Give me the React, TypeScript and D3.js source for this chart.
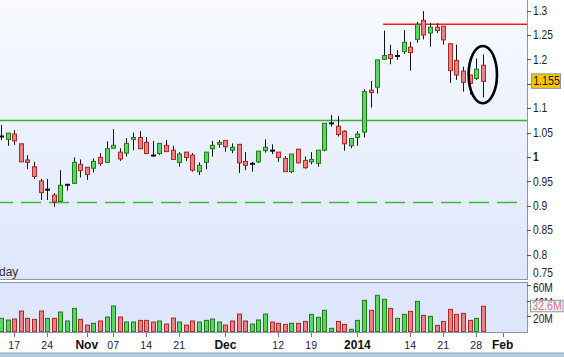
import React from "react";
import * as d3 from "d3";

// ---- data (trading-day index 0 = 15 Oct 2013, last = 29 Jan 2014) ----
const opens = [1.042,1.036,1.047,1.027,0.994,0.980,0.951,0.933,0.922,0.909,0.943,0.946,0.985,0.979,0.977,0.999,0.989,1.018,1.010,1.008,1.036,1.040,1.030,1.003,1.007,1.024,1.014,0.989,1.010,1.004,0.970,0.989,1.017,1.026,1.034,1.014,1.026,0.991,0.986,0.990,1.013,1.013,1.010,0.997,0.970,1.016,0.993,0.990,0.987,1.014,1.069,1.063,1.053,1.023,1.040,1.051,1.137,1.143,1.200,1.210,1.207,1.216,1.225,1.241,1.280,1.254,1.266,1.268,1.232,1.198,1.176,1.168,1.161,1.188];
const highs = [1.066,1.049,1.055,1.027,1.004,0.990,0.955,0.955,0.926,0.973,0.945,0.999,0.995,0.979,0.997,1.008,1.032,1.057,1.018,1.039,1.050,1.053,1.041,1.033,1.028,1.035,1.023,1.010,1.010,1.008,0.989,1.010,1.033,1.035,1.034,1.028,1.026,1.010,0.990,1.012,1.036,1.026,1.010,1.002,1.006,1.016,1.001,1.010,1.014,1.069,1.086,1.084,1.055,1.038,1.053,1.139,1.156,1.199,1.259,1.230,1.219,1.260,1.236,1.277,1.299,1.275,1.274,1.268,1.232,1.230,1.185,1.168,1.202,1.210];
const lows = [1.035,1.023,1.025,0.990,0.975,0.955,0.912,0.912,0.898,0.909,0.931,0.946,0.958,0.953,0.968,0.982,0.989,1.018,0.992,1.001,1.014,1.017,1.007,1.001,1.004,1.011,0.995,0.980,0.992,0.970,0.963,0.975,1.001,1.019,1.011,1.008,0.967,0.973,0.970,0.988,1.009,1.006,0.990,0.970,0.967,0.987,0.976,0.985,0.980,1.012,1.062,1.042,1.013,1.018,1.023,1.040,1.101,1.130,1.200,1.190,1.199,1.211,1.177,1.234,1.241,1.226,1.254,1.230,1.152,1.158,1.134,1.128,1.158,1.122];
const closes = [1.042,1.049,1.033,0.990,0.989,0.960,0.927,0.933,0.908,0.942,0.943,0.989,0.972,0.964,0.991,0.987,1.017,1.024,0.996,1.028,1.040,1.017,1.007,1.003,1.028,1.011,0.995,1.006,0.999,0.973,0.983,1.010,1.024,1.030,1.021,1.020,0.988,0.983,0.986,1.012,1.020,1.013,0.999,0.970,1.006,0.988,0.978,0.995,1.014,1.069,1.069,1.046,1.027,1.038,1.047,1.134,1.132,1.199,1.208,1.202,1.207,1.235,1.214,1.272,1.250,1.266,1.259,1.240,1.177,1.168,1.153,1.151,1.180,1.155];
const volumes = [17.1,15.0,16.2,26.5,17.1,15.8,26.5,17.1,17.1,25.2,13.7,29.9,15.8,8.5,10.7,13.7,18.8,32.9,18.8,12.4,12.4,14.5,14.5,12.4,13.7,9.8,17.5,12.4,8.5,13.7,12.4,14.5,16.2,12.4,8.5,13.7,22.6,13.7,9.8,15.0,22.6,12.4,10.7,9.4,10.7,10.7,13.2,22.2,18.4,27.4,4.3,13.2,9.4,3.0,14.5,40.2,27.4,46.6,41.5,29.9,17.1,22.2,26.1,38.9,20.9,19.7,8.1,13.2,28.6,22.2,23.5,14.5,17.1,32.6];

const xTickIdx = [2,7,13,17,22,27,34,42,47,54,62,67,72,76];
const xTickLabels = ["17","24","Nov","07","14","21","Dec","12","19","2014","14","21","28","Feb"];
const boldLabels = ["Nov","Dec","2014","Feb"];
const priceTicks = [0.75,0.8,0.85,0.9,0.95,1,1.05,1.1,1.15,1.2,1.25,1.3];
const hiddenPriceLabels = [1.15];
const volTicks = [20,40,60];

const resistanceLevel = 1.075;
const supportLevel = 0.907;
const topLevel = 1.272;
const topLineStartIdx = 57.9;
const lastPrice = 1.155;
const lastVolume = 32.6;
const titleText = "day";

const W = 564, H = 357;
const PANE_R = 527;
const P_TOP = 0, P_BOT = 279;
const V_TOP = 283, V_BOT = 332;

const GREEN_F = "#5cd65c", GREEN_S = "#1f7a1f";
const RED_F = "#f27f7f", RED_S = "#a52a2a";
const FONT = "'Liberation Sans', Arial, sans-serif";
const SX = 0.85; // axis-label horizontal squeeze

function AxisText(props: { x: number; y: number; text: string; bold?: boolean; fill?: string; anchor?: string; size?: number }) {
  const { x, y, text, bold, fill = "#222", anchor = "start", size = 12 } = props;
  return (
    <g transform={`translate(${x},${y}) scale(${SX},1)`}>
      <text x={0} y={0} dy="0.35em" fontSize={size} fill={fill} textAnchor={anchor} fontWeight={bold ? "bold" : "normal"}>{text}</text>
    </g>
  );
}

export default function App() {
  const x = d3.scaleLinear().domain([0, 76]).range([1, 502.6]);
  const y = d3.scaleLinear().domain([0.75, 1.3]).range([P_BOT, 10.6]);
  const yv = d3.scaleLinear().domain([0, 60]).range([331.7, 284.9]);
  const step = x(1) - x(0);
  const fmt = (v: number) => String(+v.toFixed(3));

  const candles = opens.map((o, i) => ({ i, o, h: highs[i], l: lows[i], c: closes[i], v: volumes[i] }));

  return (
    <svg width={W} height={H} style={{ position: "absolute", left: 0, top: 0, fontFamily: FONT }}>
      <defs>
        <linearGradient id="pbg" x1="0" y1="0" x2="0" y2="1">
          <stop offset="0" stopColor="#f8faff" />
          <stop offset="1" stopColor="#dfe7fb" />
        </linearGradient>
        <clipPath id="pclip"><rect x={0} y={P_TOP} width={PANE_R} height={P_BOT - P_TOP} /></clipPath>
      </defs>
      <rect x={0} y={0} width={W} height={H} fill="#ffffff" />
      <rect x={0} y={P_TOP} width={PANE_R} height={P_BOT - P_TOP} fill="url(#pbg)" />
      <rect x={0} y={V_TOP} width={PANE_R} height={V_BOT - V_TOP} fill="#dde6fb" />

      <g clipPath="url(#pclip)">
        <line x1={0} x2={PANE_R} y1={y(resistanceLevel)} y2={y(resistanceLevel)} stroke="#2fb52f" strokeWidth={1.5} />
        <line x1={0} x2={PANE_R - 10} y1={y(supportLevel)} y2={y(supportLevel)} stroke="#3cba3c" strokeWidth={1.5} strokeDasharray="20 8" strokeDashoffset={7} />
        <line x1={x(topLineStartIdx)} x2={PANE_R} y1={y(topLevel)} y2={y(topLevel)} stroke="#ff1a1a" strokeWidth={1.5} />
        {candles.map((d) => {
          const cx = Math.round(x(d.i)) + 0.5;
          const up = d.c > d.o;
          const flat = d.c === d.o;
          const top = y(Math.max(d.o, d.c));
          const bot = y(Math.min(d.o, d.c));
          return (
            <g key={d.i}>
              <line x1={cx} x2={cx} y1={y(d.h)} y2={y(d.l)} stroke="#111" strokeWidth={1} />
              {flat ? (
                <line x1={cx - 2.5} x2={cx + 2.5} y1={top} y2={top} stroke="#111" strokeWidth={2} />
              ) : (
                <rect x={cx - 2} y={top} width={4} height={Math.max(1, bot - top)}
                  fill={up ? GREEN_F : RED_F} stroke={up ? GREEN_S : RED_S} strokeWidth={1} />
              )}
            </g>
          );
        })}
        <ellipse cx={x(73)} cy={y(1.1687)} rx={step * 2.15} ry={y(1.11) - y(1.1687)} fill="none" stroke="#000" strokeWidth={2.6} />
      </g>

      {candles.map((d) => {
        const cx = Math.round(x(d.i)) + 0.5;
        const up = d.i === 0 ? true : d.c >= closes[d.i - 1];
        return (
          <rect key={"v" + d.i} x={cx - 2} y={yv(d.v)} width={4} height={yv(0) - yv(d.v)}
            fill={up ? GREEN_F : RED_F} stroke={up ? GREEN_S : RED_S} strokeWidth={1} />
        );
      })}

      <line x1={0} x2={PANE_R} y1={P_BOT + 0.5} y2={P_BOT + 0.5} stroke="#8a97a6" />
      <line x1={PANE_R + 0.5} x2={PANE_R + 0.5} y1={P_TOP} y2={P_BOT + 1} stroke="#8a97a6" />
      <line x1={0} x2={PANE_R} y1={V_TOP - 0.5} y2={V_TOP - 0.5} stroke="#8a97a6" />
      <line x1={PANE_R + 0.5} x2={PANE_R + 0.5} y1={V_TOP - 1} y2={V_BOT + 0.5} stroke="#8a97a6" />
      <line x1={0} x2={PANE_R + 1} y1={V_BOT + 0.5} y2={V_BOT + 0.5} stroke="#8a97a6" />

      <text x={-1} y={276} fontSize={12} fill="#333">{titleText}</text>

      {priceTicks.map((t) => (
        <g key={"p" + t}>
          {t > 0.75 && <line x1={PANE_R} x2={PANE_R + 4} y1={Math.round(y(t)) + 0.5} y2={Math.round(y(t)) + 0.5} stroke="#555" />}
          {!hiddenPriceLabels.includes(t) && <AxisText x={533} y={Math.min(y(t), 273)} text={fmt(t)} bold={t === 1} />}
        </g>
      ))}
      <rect x={531.5} y={y(lastPrice) - 7.5} width={29} height={14.5} fill="#f7c600" stroke="#8a97a6" />
      <AxisText x={546.5} y={y(lastPrice) - 0.5} text={fmt(lastPrice)} anchor="middle" size={12.5} fill="#111" />

      {volTicks.map((t) => (
        <g key={"vt" + t}>
          <line x1={PANE_R} x2={PANE_R + 4} y1={Math.round(yv(t)) + 0.5} y2={Math.round(yv(t)) + 0.5} stroke="#555" />
          <AxisText x={533} y={yv(t) + 2.5} text={t + "M"} />
        </g>
      ))}
      <rect x={530.5} y={yv(lastVolume) - 6} width={32.5} height={11.5} fill="#eff1f8" stroke="#8a97a6" />
      <AxisText x={547} y={yv(lastVolume) - 0.3} text={lastVolume + "M"} anchor="middle" size={12.5} fill="#e07a7a" />

      {xTickIdx.map((idx, k) => {
        const bold = boldLabels.includes(xTickLabels[k]);
        return (
          <g key={"x" + k}>
            <line x1={Math.round(x(idx)) + 0.5} x2={Math.round(x(idx)) + 0.5} y1={V_BOT + 1} y2={V_BOT + 5} stroke="#777" />
            <text x={x(idx)} y={349} fontSize={bold ? 12 : 10.5} textAnchor="middle" fill={bold ? "#111" : "#1c1a3a"}
              fontWeight={bold ? "bold" : "normal"}>{xTickLabels[k]}</text>
          </g>
        );
      })}
      <rect x={0} y={353} width={W} height={4} fill="#b3cad8" />
      <line x1={0} x2={W} y1={353} y2={353} stroke="#8fa6b5" />
    </svg>
  );
}
